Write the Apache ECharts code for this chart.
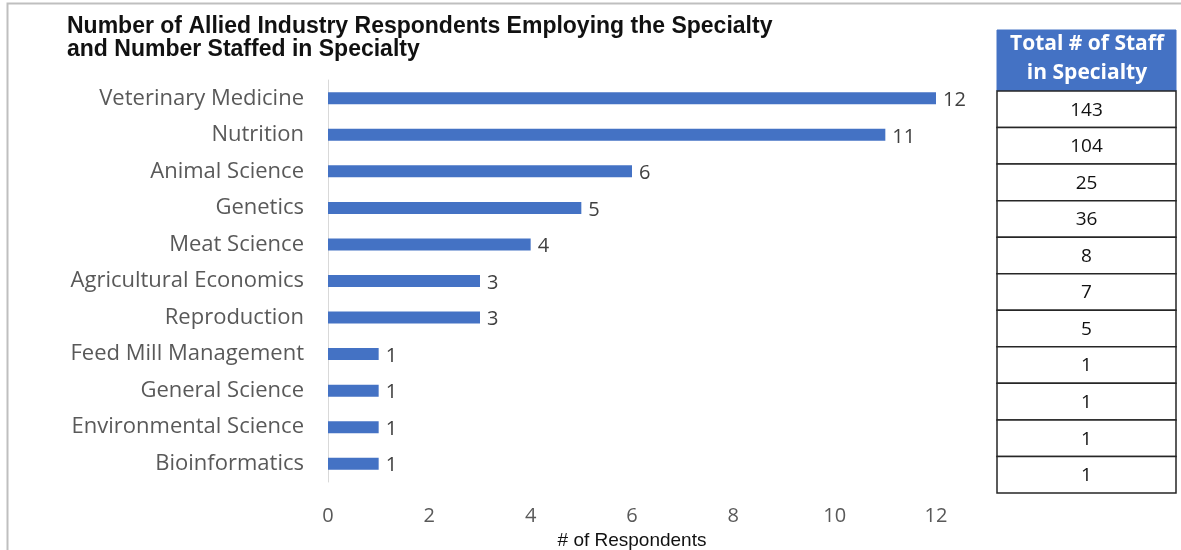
<!DOCTYPE html>
<html>
<head>
<meta charset="utf-8">
<script src="https://cdn.jsdelivr.net/npm/echarts@6/dist/echarts.min.js"></script>
<style>
  html, body { margin: 0; padding: 0; background: #fff; }
  #chart { width: 1181px; height: 550px; }
</style>
</head>
<body>
<div id="chart"></div>
<script>
// specialties, top to bottom as in the picture
var specialties = ['Veterinary Medicine', 'Nutrition', 'Animal Science', 'Genetics', 'Meat Science',
    'Agricultural Economics', 'Reproduction', 'Feed Mill Management', 'General Science',
    'Environmental Science', 'Bioinformatics'];
var respondents = [12, 11, 6, 5, 4, 3, 3, 1, 1, 1, 1];
var staffTotals = [143, 104, 25, 36, 8, 7, 5, 1, 1, 1, 1];
var xTicks = [0, 2, 4, 6, 8, 10, 12];

var chart = echarts.init(document.getElementById('chart'));

var labelFont = '"Open Sans", Lato, sans-serif';

var option = {
    animation: false,
    backgroundColor: '#fff',
    title: {
        text: 'Number of Allied Industry Respondents Employing the Specialty\nand Number Staffed in Specialty',
        left: 62,
        top: 10,
        textStyle: {
            fontFamily: 'Liberation Sans, Arial, sans-serif',
            fontWeight: 'bold',
            fontSize: 23,
            lineHeight: 23,
            color: '#111'
        }
    },
    graphic: [
        // outer chart border (top and left visible)
        {
            type: 'rect',
            shape: { x: 7.5, y: 3.5, width: 1200, height: 600 },
            style: { fill: 'none', stroke: '#bfbfbf', lineWidth: 2 },
            silent: true
        },
        // table header
        {
            type: 'rect',
            shape: { x: 997, y: 30, width: 179, height: 61 },
            style: { fill: '#4472c4', stroke: '#4472c4' },
            silent: true
        },
        {
            type: 'text',
            x: 1087,
            y: 59,
            style: {
                text: 'Total # of Staff\nin Specialty',
                fill: '#fff',
                font: 'bold 21px ' + labelFont,
                lineHeight: 29,
                align: 'center',
                verticalAlign: 'middle'
            },
            silent: true
        }
    ],
    grid: [
        { left: 328, right: 245, top: 80, bottom: 68, outerBoundsMode: 'none', containLabel: false },
        { left: 997, right: 5, top: 91, bottom: 57, outerBoundsMode: 'none', containLabel: false }
    ],
    xAxis: [
        {
            gridIndex: 0,
            type: 'value',
            min: xTicks[0],
            max: xTicks[xTicks.length - 1],
            interval: 2,
            name: '# of Respondents',
            nameLocation: 'middle',
            nameGap: 48,
            nameTextStyle: { fontFamily: 'Liberation Sans, Arial, sans-serif', fontSize: 19, color: '#111' },
            axisLine: { show: false },
            axisTick: { show: false },
            splitLine: { show: false },
            axisLabel: { margin: 24, fontSize: 20, color: '#595959', fontFamily: labelFont }
        },
        {
            gridIndex: 1,
            type: 'value',
            min: 0,
            max: 1,
            show: false
        }
    ],
    yAxis: [
        {
            gridIndex: 0,
            type: 'category',
            inverse: true,
            data: specialties,
            axisLine: { show: true, lineStyle: { color: '#d9d9d9', width: 1 } },
            axisTick: { show: false },
            axisLabel: { margin: 24, fontSize: 22, color: '#595959', fontFamily: labelFont }
        },
        {
            gridIndex: 1,
            type: 'category',
            inverse: true,
            data: specialties,
            show: false
        }
    ],
    series: [
        {
            type: 'bar',
            xAxisIndex: 0,
            yAxisIndex: 0,
            data: respondents,
            barWidth: 12,
            itemStyle: { color: '#4472c4' },
            label: {
                show: true,
                position: 'right',
                distance: 7,
                offset: [0, 2],
                fontSize: 20,
                color: '#404040',
                fontFamily: labelFont
            }
        },
        {
            type: 'custom',
            xAxisIndex: 1,
            yAxisIndex: 1,
            data: staffTotals.map(function (v, i) { return [i, v]; }),
            encode: { y: 0 },
            renderItem: function (params, api) {
                var idx = api.value(0);
                var start = api.coord([0, idx]);
                var end = api.coord([1, idx]);
                var h = api.size([0, 1])[1];
                return {
                    type: 'group',
                    children: [
                        {
                            type: 'rect',
                            shape: { x: start[0], y: start[1] - h / 2, width: end[0] - start[0], height: h },
                            style: { fill: '#fff', stroke: '#262626', lineWidth: 1.5 }
                        },
                        {
                            type: 'text',
                            x: (start[0] + end[0]) / 2,
                            y: start[1] + 1,
                            style: {
                                text: String(api.value(1)),
                                fill: '#111',
                                font: '19px ' + labelFont,
                                align: 'center',
                                verticalAlign: 'middle'
                            }
                        }
                    ]
                };
            }
        }
    ]
};

chart.setOption(option);
</script>
</body>
</html>
